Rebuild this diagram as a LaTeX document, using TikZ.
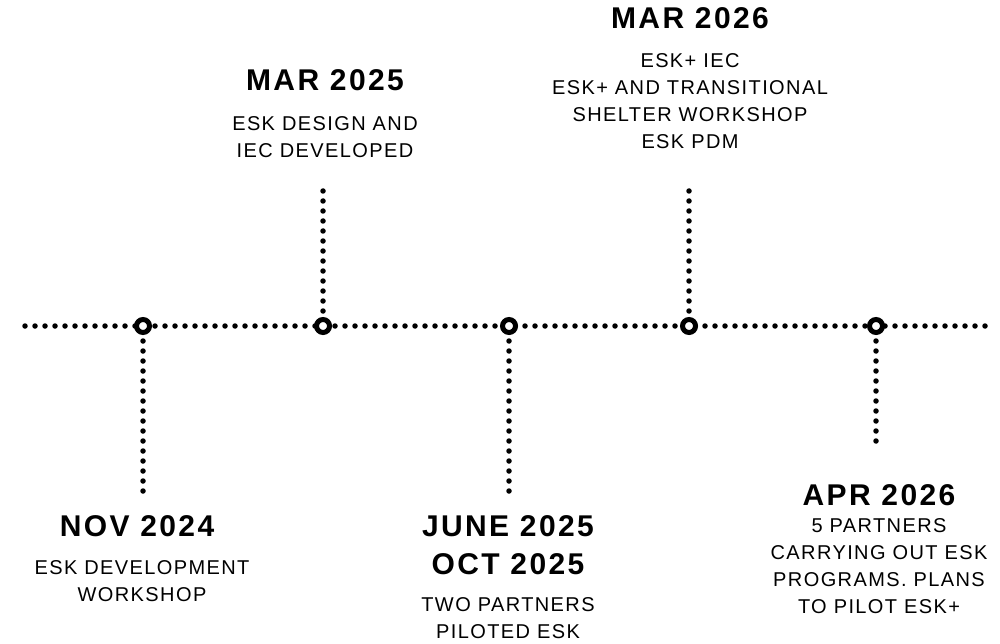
\documentclass[tikz,border=0pt]{standalone}
\usepackage{fontspec}
\setmainfont{Liberation Sans}
\newfontfamily\titlefont[LetterSpace=8]{Liberation Sans}
\newfontfamily\descfont[LetterSpace=7]{Liberation Sans}
\begin{document}
\begin{tikzpicture}[x=1pt,y=-1pt,
  dotline/.style={line width=5.5pt,line cap=round,dash pattern=on 0pt off 10pt},
  milestone/.style={circle,draw,line width=5pt,fill=white,minimum size=13pt,inner sep=0pt},
  datetitle/.style={font=\titlefont\bfseries\fontsize{30}{38}\selectfont,align=center,inner sep=0pt},
  desc/.style={font=\descfont\fontsize{20}{27}\selectfont,align=center,inner sep=0pt,anchor=north}]
  \useasboundingbox (0,0) rectangle (1000,644);
  % timeline
  \coordinate (start) at (25,326);
  \coordinate (end) at (990,326);
  \draw[dotline] (start) -- (end);
  \node[milestone] (nov) at (143,326) {};
  \node[milestone] (mar25) at (323,326) {};
  \node[milestone] (jun) at (509,326) {};
  \node[milestone] (mar26) at (689,326) {};
  \node[milestone] (apr) at (876,326) {};
  % stems
  \coordinate (novend) at (143,492);
  \coordinate (mar25end) at (323,186);
  \coordinate (junend) at (509,492);
  \coordinate (mar26end) at (689,186);
  \coordinate (aprend) at (876,447);
  \draw[dotline] (nov.south) ++(0,6) -- (novend);
  \draw[dotline] (mar25.north) ++(0,-6) -- (mar25end);
  \draw[dotline] (jun.south) ++(0,6) -- (junend);
  \draw[dotline] (mar26.north) ++(0,-6) -- (mar26end);
  \draw[dotline] (apr.south) ++(0,6) -- (aprend);
  % labels
  \node[datetitle,anchor=base] (novtitle) at (137,536) {NOV 2024};
  \node[desc] (novdesc) at (142,560) {ESK DEVELOPMENT\\WORKSHOP};
  \node[datetitle,anchor=base] (mar25title) at (325,91) {MAR 2025};
  \node[desc] (mar25desc) at (325,116) {ESK DESIGN AND\\IEC DEVELOPED};
  \node[datetitle,anchor=north] (juntitle) at (508,515) {JUNE 2025\\OCT 2025};
  \node[desc] (jundesc) at (508,597) {TWO PARTNERS\\PILOTED ESK};
  \node[datetitle,anchor=base] (mar26title) at (690,29) {MAR 2026};
  \node[desc] (mar26desc) at (690,53) {ESK+ IEC\\ESK+ AND TRANSITIONAL\\SHELTER WORKSHOP\\ESK PDM};
  \node[datetitle,anchor=base] (aprtitle) at (879,505) {APR 2026};
  \node[desc] (aprdesc) at (879,518) {5 PARTNERS\\CARRYING OUT ESK\\PROGRAMS. PLANS\\TO PILOT ESK+};
\end{tikzpicture}
\end{document}
